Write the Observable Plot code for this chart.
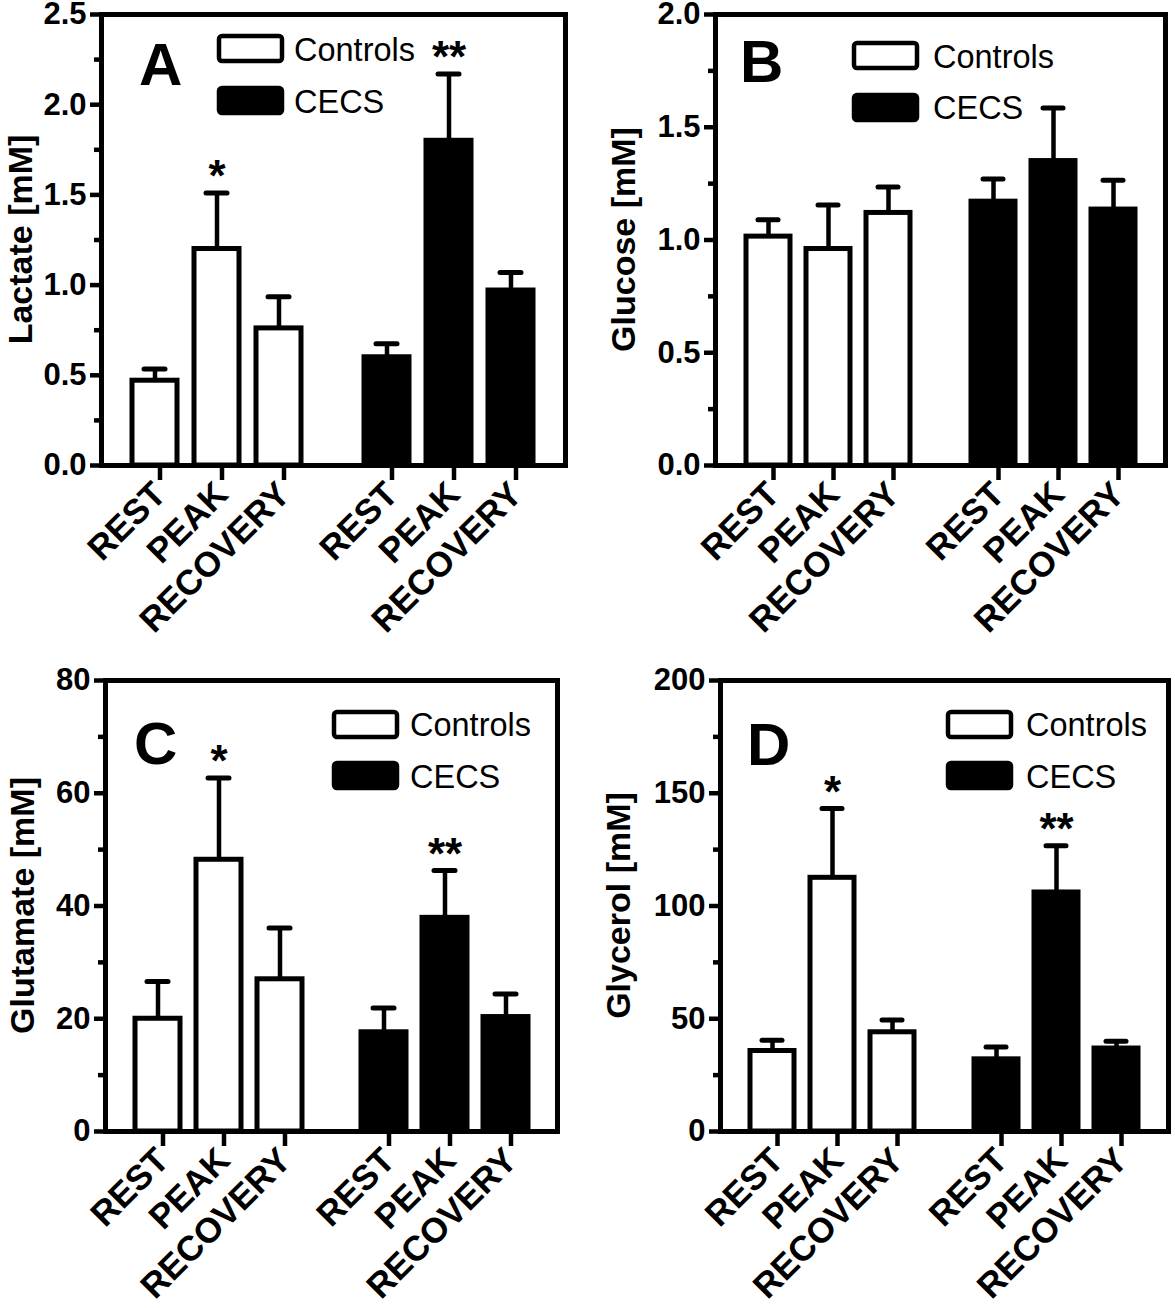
<!DOCTYPE html>
<html>
<head>
<meta charset="utf-8">
<script src="https://cdn.jsdelivr.net/npm/d3@7"></script>
<script src="https://cdn.jsdelivr.net/npm/@observablehq/plot@0.6"></script>
<style>
  html, body { margin: 0; padding: 0; background: #fff; }
  #root { position: relative; width: 1175px; height: 1308px; background: #fff; overflow: hidden; }
  .panel { position: absolute; }
  .panel svg { display: block; }
  .overlay { position: absolute; left: 0; top: 0; pointer-events: none; }
  text { font-family: "Liberation Sans", Arial, Helvetica, sans-serif; }
</style>
</head>
<body>
<div id="root"></div>
<script>
// ---------------- DATA ----------------
const groups = ["Controls", "CECS"];
const times = ["REST", "PEAK", "RECOVERY"];

// Panel A: Lactate
const lactateMean = { Controls: [0.47, 1.20, 0.76], CECS: [0.60, 1.80, 0.97] };
const lactateErr  = { Controls: [0.535, 1.51, 0.935], CECS: [0.675, 2.17, 1.07] };
const lactateSig  = { Controls: ["", "*", ""], CECS: ["", "**", ""] };

// Panel B: Glucose
const glucoseMean = { Controls: [1.015, 0.96, 1.12], CECS: [1.17, 1.35, 1.135] };
const glucoseErr  = { Controls: [1.09, 1.155, 1.235], CECS: [1.27, 1.585, 1.265] };
const glucoseSig  = { Controls: ["", "", ""], CECS: ["", "", ""] };

// Panel C: Glutamate
const glutamateMean = { Controls: [20.0, 48.2, 27.0], CECS: [17.6, 37.9, 20.3] };
const glutamateErr  = { Controls: [26.6, 62.7, 36.1], CECS: [21.9, 46.3, 24.4] };
const glutamateSig  = { Controls: ["", "*", ""], CECS: ["", "**", ""] };

// Panel D: Glycerol
const glycerolMean = { Controls: [35.7, 112.5, 44.0], CECS: [32.0, 106.0, 36.8] };
const glycerolErr  = { Controls: [40.5, 143.2, 49.5], CECS: [37.5, 126.7, 40.0] };
const glycerolSig  = { Controls: ["", "*", ""], CECS: ["", "**", ""] };

// Axis ticks
const lactateTicks = [0, 0.5, 1.0, 1.5, 2.0, 2.5];
const lactateMinor = [0.25, 0.75, 1.25, 1.75, 2.25];
const glucoseTicks = [0, 0.5, 1.0, 1.5, 2.0];
const glucoseMinor = [0.25, 0.75, 1.25, 1.75];
const glutamateTicks = [0, 20, 40, 60, 80];
const glutamateMinor = [10, 30, 50, 70];
const glycerolTicks = [0, 50, 100, 150, 200];
const glycerolMinor = [25, 75, 125, 175];

// ---------------- LAYOUT ----------------
const FONT = '"Liberation Sans", Arial, Helvetica, sans-serif';
const SW = 4.5;

const panels = [
  { letter: "A", label: "Lactate [mM]", mean: lactateMean, err: lactateErr, sig: lactateSig,
    ticks: lactateTicks, minor: lactateMinor, domain: [0, 2.5], fmt: d3.format(".1f"),
    left: 0, top: 0, width: 590, height: 660, mL: 100, mR: 25, mT: 14, mB: 195,
    letterPos: [139, 85], swX: 219, txtX: 294, rows: [[36, 61], [88, 113]], labelX: 32 },
  { letter: "B", label: "Glucose [mM]", mean: glucoseMean, err: glucoseErr, sig: glucoseSig,
    ticks: glucoseTicks, minor: glucoseMinor, domain: [0, 2.0], fmt: d3.format(".1f"),
    left: 590, top: 0, width: 585, height: 660, mL: 125, mR: 10, mT: 14, mB: 195,
    letterPos: [150, 82], swX: 264, txtX: 343, rows: [[43, 68], [95, 119]], labelX: 45 },
  { letter: "C", label: "Glutamate [mM]", mean: glutamateMean, err: glutamateErr, sig: glutamateSig,
    ticks: glutamateTicks, minor: glutamateMinor, domain: [0, 80], fmt: d3.format("d"),
    left: 0, top: 660, width: 590, height: 648, mL: 105, mR: 33, mT: 20, mB: 177,
    letterPos: [134, 104], swX: 334, txtX: 410, rows: [[52, 76], [103, 128]], labelX: 34 },
  { letter: "D", label: "Glycerol [mM]", mean: glycerolMean, err: glycerolErr, sig: glycerolSig,
    ticks: glycerolTicks, minor: glycerolMinor, domain: [0, 200], fmt: d3.format("d"),
    left: 590, top: 660, width: 585, height: 648, mL: 130, mR: 7, mT: 20, mB: 177,
    letterPos: [157, 105], swX: 358, txtX: 436, rows: [[52, 76], [103, 128]], labelX: 40 }
];

function buildRows(p) {
  const rows = [];
  for (const g of groups) {
    times.forEach((t, i) => {
      rows.push({ group: g, time: t, value: p.mean[g][i], err: p.err[g][i], sig: p.sig[g][i] });
    });
  }
  return rows;
}

function makePlot(p, useSuper) {
  const rows = buildRows(p);
  const marks = [
    Plot.ruleX(rows, { fx: "group", x: "time", y1: "value", y2: "err", stroke: "black", strokeWidth: SW }),
    Plot.tickY(rows, { fx: "group", x: "time", y: "err", stroke: "black", strokeWidth: SW + 0.5, strokeLinecap: "round", inset: 12 }),
    Plot.barY(rows, { fx: "group", x: "time", y: "value", fill: "group", stroke: "black", strokeWidth: SW + 0.5 }),
    Plot.text(rows.filter(d => d.sig), { fx: "group", x: "time", y: "err", text: "sig", fontSize: 44, fontWeight: "bold", dy: -16, fill: "black", fontFamily: FONT }),
    Plot.axisY({ ticks: p.minor, tickSize: 7, text: null, strokeWidth: SW, label: null }),
    Plot.axisY({ ticks: p.ticks, tickSize: 11, tickPadding: 4, tickFormat: p.fmt, strokeWidth: SW,
      fontSize: 31, fontWeight: "bold", fontFamily: FONT, label: null }),
    Plot.axisX({ tickSize: 12, tickPadding: 8, tickRotate: -45, strokeWidth: SW, dx: 5, dy: 3,
      fontSize: 35, fontWeight: "bold", fontFamily: FONT, label: null })
  ];
  if (useSuper) marks.push(Plot.frame({ facet: "super", stroke: "black", strokeWidth: SW + 0.5 }));
  return Plot.plot({
    width: p.width, height: p.height,
    marginLeft: p.mL, marginRight: p.mR, marginTop: p.mT, marginBottom: p.mB,
    style: { background: "white", color: "black", fontFamily: FONT, overflow: "visible" },
    fx: { domain: groups, paddingInner: 0, paddingOuter: 0, axis: null, label: null },
    x: { domain: times, paddingInner: 0.27, paddingOuter: 0.48, label: null },
    y: { domain: p.domain, label: null },
    color: { domain: groups, range: ["white", "black"] },
    marks
  });
}

const root = document.getElementById("root");
for (const p of panels) {
  const div = document.createElement("div");
  div.className = "panel";
  div.style.left = p.left + "px";
  div.style.top = p.top + "px";
  div.style.width = p.width + "px";
  div.style.height = p.height + "px";
  let svg;
  try {
    svg = makePlot(p, true);
  } catch (e) {
    svg = makePlot(p, false);
    const s = d3.select(svg);
    s.append("rect")
      .attr("x", p.mL).attr("y", p.mT)
      .attr("width", p.width - p.mL - p.mR).attr("height", p.height - p.mT - p.mB)
      .attr("fill", "none").attr("stroke", "black").attr("stroke-width", SW);
  }
  div.appendChild(svg);

  // overlay: panel letter, legend, y-axis title
  const ov = d3.create("svg")
    .attr("class", "overlay")
    .attr("width", p.width).attr("height", p.height)
    .style("font-family", FONT);
  ov.append("text").attr("x", p.letterPos[0]).attr("y", p.letterPos[1])
    .attr("font-size", 60).attr("font-weight", "bold").text(p.letter);
  groups.forEach((g, i) => {
    const [sy, ty] = p.rows[i];
    ov.append("rect").attr("x", p.swX).attr("y", sy).attr("width", 63).attr("height", 25)
      .attr("rx", 3).attr("fill", i === 0 ? "white" : "black")
      .attr("stroke", "black").attr("stroke-width", SW);
    ov.append("text").attr("x", p.txtX).attr("y", ty).attr("font-size", 32.5).text(g);
  });
  const cy = p.mT + (p.height - p.mT - p.mB) / 2;
  ov.append("text")
    .attr("transform", `translate(${p.labelX},${cy}) rotate(-90)`)
    .attr("text-anchor", "middle")
    .attr("font-size", 34).attr("font-weight", "bold")
    .text(p.label);
  div.appendChild(ov.node());
  root.appendChild(div);
}
</script>
</body>
</html>
